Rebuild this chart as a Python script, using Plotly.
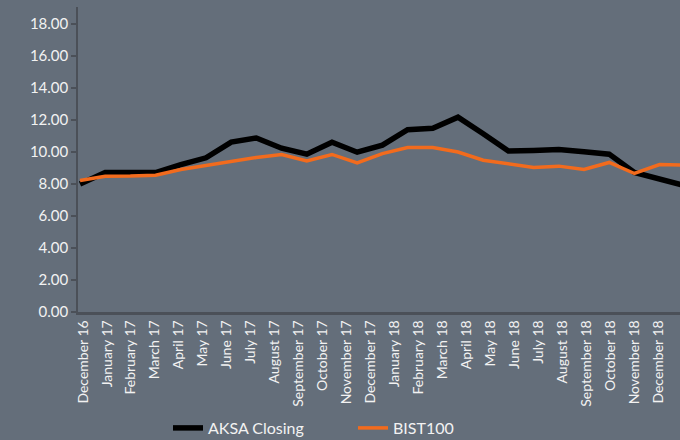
import plotly.graph_objects as go

months = ["December 16", "January 17", "February 17", "March 17", "April 17", "May 17",
          "June 17", "July 17", "August 17", "September 17", "October 17", "November 17",
          "December 17", "January 18", "February 18", "March 18", "April 18", "May 18",
          "June 18", "July 18", "August 18", "September 18", "October 18", "November 18",
          "December 18"]

aksa_closing = [8.00, 8.72, 8.72, 8.72, 9.22, 9.64, 10.62, 10.88, 10.24, 9.87, 10.62, 9.99,
                10.43, 11.40, 11.49, 12.18, 11.15, 10.06, 10.10, 10.16, 10.02, 9.87, 8.72,
                8.35, 7.90]
bist100 = [8.22, 8.49, 8.50, 8.55, 8.91, 9.16, 9.40, 9.66, 9.85, 9.45, 9.85, 9.32,
           9.90, 10.28, 10.28, 10.00, 9.49, 9.27, 9.04, 9.12, 8.91, 9.35, 8.66,
           9.22, 9.18]

y_ticks = [0, 2, 4, 6, 8, 10, 12, 14, 16, 18]

BG = "#646e7a"
TXT = "#f2f2f2"
AX = "#4b5058"
FONT = "Lato, 'Open Sans', sans-serif"

fig = go.Figure()
fig.add_trace(go.Scatter(x=months, y=aksa_closing, name="AKSA Closing", mode="lines",
                         line=dict(color="#000000", width=5.5), xaxis="x"))
fig.add_trace(go.Scatter(x=months, y=bist100, name="BIST100", mode="lines",
                         line=dict(color="#f26b1d", width=3.5), xaxis="x"))
# category-label axis (no visible marks)
fig.add_trace(go.Scatter(x=months, y=[None] * len(months), mode="lines", xaxis="x2",
                         showlegend=False, hoverinfo="skip"))

fig.update_layout(
    width=680, height=440,
    margin=dict(l=78, r=0, t=7, b=128),
    paper_bgcolor=BG, plot_bgcolor=BG,
    font=dict(family=FONT, color=TXT, size=14),
    showlegend=True,
    legend=dict(orientation="h", x=(168 - 78) / 602, xanchor="left",
                yref="container", y=(440 - 428) / 440, yanchor="middle",
                entrywidth=140, entrywidthmode="pixels", font=dict(size=16, color=TXT),
                bgcolor="rgba(0,0,0,0)"),
    xaxis=dict(type="category", categoryorder="array", categoryarray=months,
               range=[-0.08, 23.81], visible=False, showgrid=False,
               zeroline=False, fixedrange=True),
    xaxis2=dict(type="category", categoryorder="array", categoryarray=months,
                overlaying="x", anchor="y", side="bottom",
                range=[-0.209, 24.916], tickangle=-90, showgrid=False,
                zeroline=False, showline=True, linecolor=AX, linewidth=2.5, ticks="",
                tickfont=dict(size=14, color=TXT), fixedrange=True),
    yaxis=dict(range=[0, 19.07], tickmode="array", tickvals=y_ticks,
               ticktext=[f"{v:.2f}" for v in y_ticks], showgrid=False, zeroline=False,
               showline=True, linecolor=AX, linewidth=1.5, ticks="outside", ticklen=5,
               tickcolor=AX, tickwidth=1.5, tickfont=dict(size=15, color=TXT), fixedrange=True),
)

fig.write_html("out.html", config={"displayModeBar": False},
               post_script="document.body.style.margin='0px';document.body.style.background='%s';" % BG)
